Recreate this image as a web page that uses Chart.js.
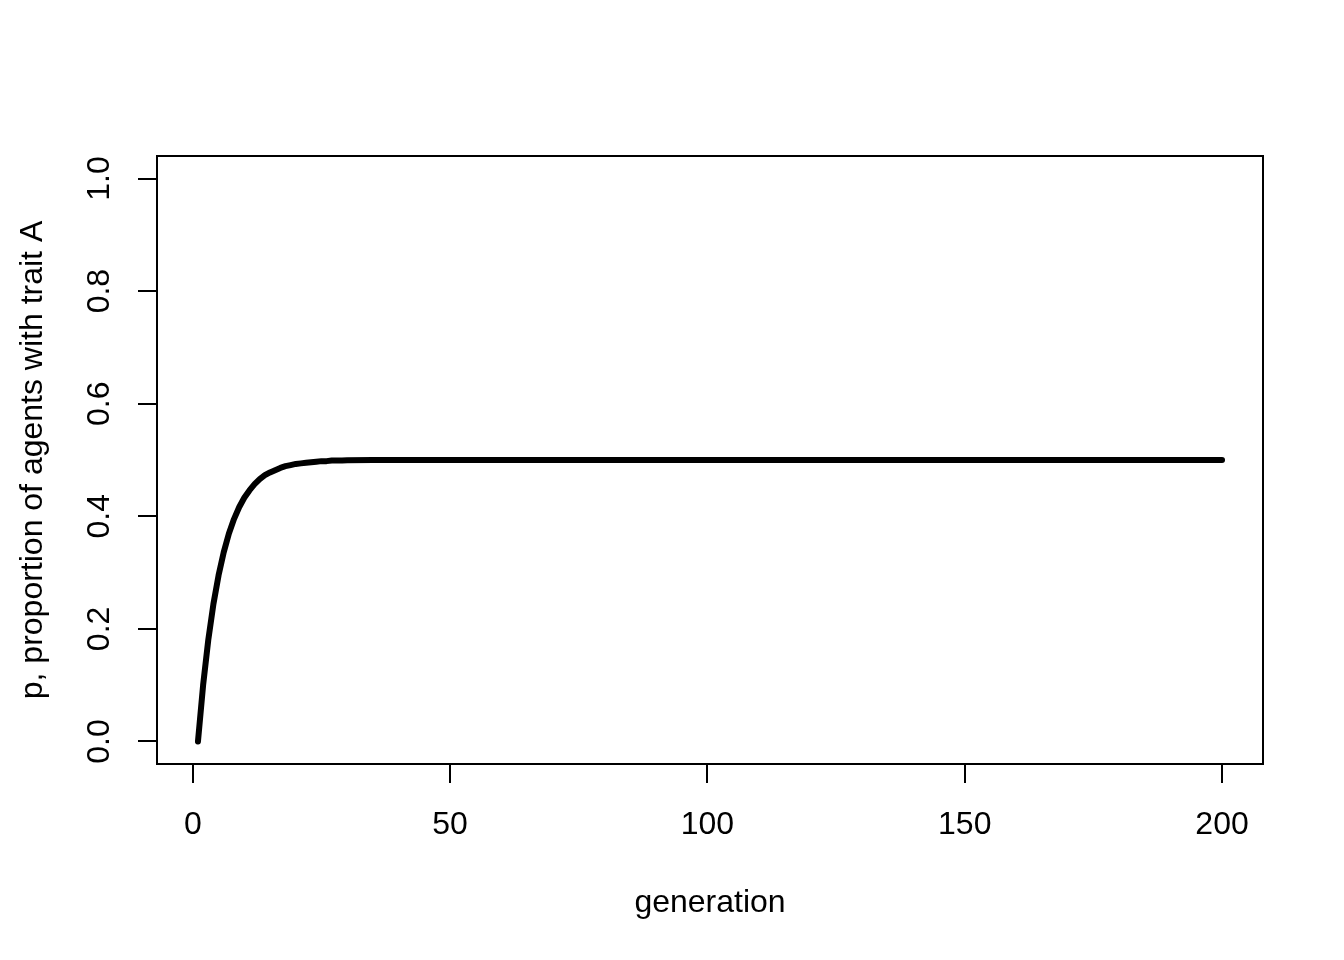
<!DOCTYPE html>
<html>
<head>
<meta charset="utf-8">
<script src="https://cdn.jsdelivr.net/npm/chart.js@4/dist/chart.umd.min.js"></script>
<style>
  html, body { margin: 0; padding: 0; background: #fff; }
  #wrap { width: 1344px; height: 960px; }
</style>
</head>
<body>
<div id="wrap"><canvas id="traitChart" width="1344" height="960"></canvas></div>
<script>
// values
const generations = [1, 2, 3, 4, 5, 6, 7, 8, 9, 10, 11, 12, 13, 14, 15, 16, 17, 18, 19, 20,
                     21, 22, 23, 24, 25, 26, 27, 28, 29, 30, 35, 40, 60, 100, 150, 200];
const pValues = [0.000, 0.100, 0.180, 0.244, 0.295, 0.336, 0.369, 0.395, 0.416, 0.433,
                 0.446, 0.457, 0.466, 0.473, 0.478, 0.482, 0.486, 0.489, 0.491, 0.493,
                 0.494, 0.495, 0.496, 0.497, 0.498, 0.498, 0.499, 0.499, 0.499, 0.4995,
                 0.4998, 0.500, 0.500, 0.500, 0.500, 0.500];
const xTicks = [0, 50, 100, 150, 200];
const yTicks = [0, 0.2, 0.4, 0.6, 0.8, 1.0];

const FONT = 'Liberation Sans, Arial, Helvetica, sans-serif';

// plain R style box round the plot region
const boxPlugin = {
    id: 'box',
    afterDraw(chart) {
        const a = chart.chartArea, ctx = chart.ctx;
        ctx.save();
        ctx.strokeStyle = '#000';
        ctx.lineWidth = 2;
        ctx.strokeRect(a.left, a.top, a.right - a.left, a.bottom - a.top);
        ctx.restore();
    }
};

const points = generations.map((g, i) => ({ x: g, y: pValues[i] }));

new Chart(document.getElementById('traitChart').getContext('2d'), {
    type: 'scatter',
    data: {
        datasets: [{
            data: points,
            showLine: true,
            borderColor: '#000',
            borderWidth: 6,
            borderCapStyle: 'round',
            borderJoinStyle: 'round',
            pointRadius: 0,
            tension: 0
        }]
    },
    options: {
        responsive: false,
        animation: false,
        layout: { padding: { top: 156, right: 81, left: 0, bottom: 0 } },
        plugins: {
            legend: { display: false },
            tooltip: { enabled: false }
        },
        scales: {
            x: {
                type: 'linear',
                min: -6.96,
                max: 207.96,
                afterBuildTicks: (scale) => { scale.ticks = xTicks.map(v => ({ value: v })); },
                afterFit: (scale) => { scale.height = 196; },
                border: { display: false },
                grid: { drawOnChartArea: false, drawTicks: true, tickLength: 19, color: '#000', lineWidth: 2 },
                ticks: {
                    color: '#000',
                    font: { family: FONT, size: 32 },
                    padding: 23,
                    maxRotation: 0,
                    callback: (v) => String(v)
                },
                title: {
                    display: true,
                    text: 'generation',
                    color: '#000',
                    font: { family: FONT, size: 32 },
                    padding: { top: 0, bottom: 38 }
                }
            },
            y: {
                type: 'linear',
                min: -0.04,
                max: 1.04,
                afterBuildTicks: (scale) => { scale.ticks = yTicks.map(v => ({ value: v })); },
                afterFit: (scale) => { scale.width = 157; },
                border: { display: false },
                grid: { drawOnChartArea: false, drawTicks: true, tickLength: 19, color: '#000', lineWidth: 2 },
                ticks: {
                    color: '#000',
                    font: { family: FONT, size: 32 },
                    padding: 16,
                    minRotation: 90,
                    maxRotation: 90,
                    crossAlign: 'center',
                    callback: (v) => Number(v).toFixed(1)
                },
                title: {
                    display: true,
                    text: 'p, proportion of agents with trait A',
                    color: '#000',
                    font: { family: FONT, size: 32 },
                    padding: { top: 14, bottom: 0 }
                }
            }
        }
    },
    plugins: [boxPlugin]
});
</script>
</body>
</html>
